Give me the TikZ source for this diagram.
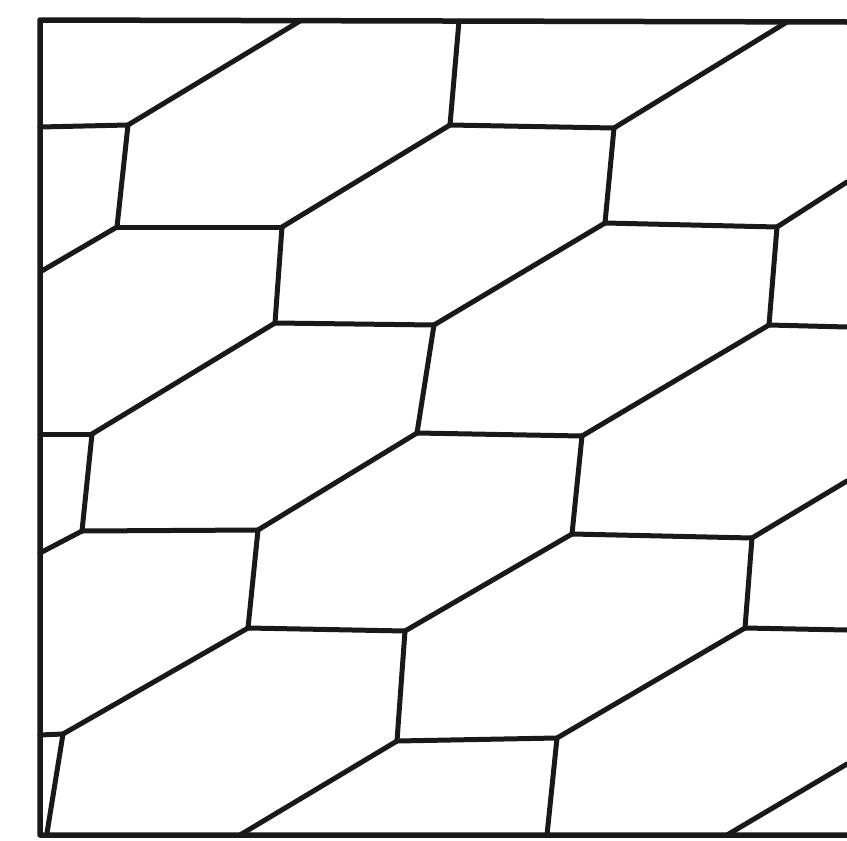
\documentclass[tikz,border=0pt]{standalone}
\begin{document}
\begin{tikzpicture}[x=1pt,y=-1pt,
  edge/.style={line width=5pt,line cap=round,line join=round,black!90},
  frame/.style={line width=5.5pt,line cap=round,line join=round,black!90}]
\useasboundingbox (0,0) rectangle (847,841);
% border points
\coordinate (C1) at (40,20);
\coordinate (C2) at (847,22);
\coordinate (C3) at (40,835);
\coordinate (C4) at (847,835);
\coordinate (T1) at (300,21);
\coordinate (T2) at (459,21);
\coordinate (T3) at (787,22);
\coordinate (L1) at (40,127);
\coordinate (L2) at (40,272);
\coordinate (L3) at (40,434);
\coordinate (L4) at (40,553);
\coordinate (L5) at (40,735);
\coordinate (B1) at (47,833);
\coordinate (B2) at (240,835);
\coordinate (B3) at (547,835);
\coordinate (B4) at (727,835);
\coordinate (R1) at (847,182);
\coordinate (R2) at (847,327);
\coordinate (R3) at (847,481);
\coordinate (R4) at (847,630);
\coordinate (R5) at (847,764);
% interior vertices
\coordinate (W0) at (450,125);
\coordinate (V1) at (128,125);  \coordinate (W1) at (117,227);
\coordinate (V2) at (614,128);  \coordinate (W2) at (605,223);
\coordinate (V3) at (282,227);  \coordinate (W3) at (275,323);
\coordinate (V4) at (777,227);  \coordinate (W4) at (769,325);
\coordinate (V5) at (434,325);  \coordinate (W5) at (417,433);
\coordinate (V6) at (92,434);   \coordinate (W6) at (82,531);
\coordinate (V7) at (582,436);  \coordinate (W7) at (572,534);
\coordinate (V8) at (258,530);  \coordinate (W8) at (248,628);
\coordinate (V9) at (752,538);  \coordinate (W9) at (745,628);
\coordinate (V10) at (405,631); \coordinate (W10) at (397,741);
\coordinate (V11) at (63,734);
\coordinate (V12) at (557,738);
% frame
\draw[frame] (C2) -- (C1) -- (C3) -- (C4);
% vertical edges
\foreach \a/\b in {T2/W0,V1/W1,V2/W2,V3/W3,V4/W4,V5/W5,V6/W6,V7/W7,V8/W8,V9/W9,V10/W10,V11/B1,V12/B3}
  \draw[edge] (\a) -- (\b);
% horizontal edges
\foreach \a/\b in {L1/V1,W0/V2,W1/V3,W2/V4,W3/V5,W4/R2,L3/V6,W5/V7,W6/V8,W7/V9,W8/V10,W9/R4,L5/V11,W10/V12}
  \draw[edge] (\a) -- (\b);
% diagonal edges
\foreach \a/\b in {V1/T1,V3/W0,V2/T3,V4/R1,V5/W2,W1/L2,V6/W3,V7/W4,V8/W5,V9/R3,V10/W7,W6/L4,V11/W8,V12/W9,B2/W10,B4/R5}
  \draw[edge] (\a) -- (\b);
\end{tikzpicture}
\end{document}
